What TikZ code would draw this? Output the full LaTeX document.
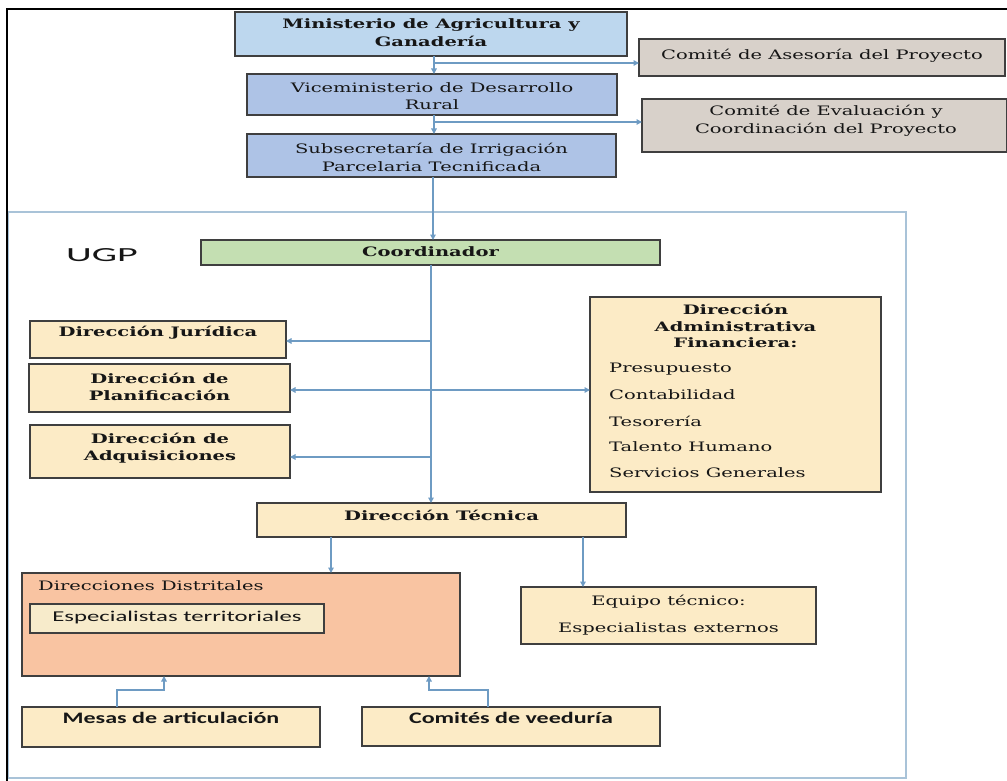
\documentclass[tikz,border=0pt]{standalone}
\usepackage{fontspec}
\usetikzlibrary{arrows.meta,calc}
\newfontfamily\serw[FakeStretch=1.5]{DejaVu Serif}
\newfontfamily\sanb[FakeStretch=1.5]{Carlito}
\newfontfamily\sanr[FakeStretch=1.65]{Carlito}
\newfontfamily\ugpf[FakeStretch=2.0]{Carlito}
\definecolor{bordc}{HTML}{3F3F3F}
\definecolor{connc}{HTML}{6E9BC3}
\definecolor{ugpc}{HTML}{A9C3D8}
\definecolor{minc}{HTML}{BDD7EE}
\definecolor{vicc}{HTML}{AEC3E6}
\definecolor{comc}{HTML}{D8D1CA}
\definecolor{grnc}{HTML}{C4DFB2}
\definecolor{yelc}{HTML}{FCEBC6}
\definecolor{orac}{HTML}{F9C4A2}
\definecolor{espc}{HTML}{F7EBCB}
\definecolor{txtc}{HTML}{161616}
\begin{document}
\begin{tikzpicture}[x=1pt,y=-1pt,
  box/.style={draw=bordc,line width=1.4pt,inner sep=0pt,outer sep=0pt},
  sertxt/.style={text=txtc,font=\serw\fontsize{13}{18}\selectfont,align=center,inner sep=0pt},
  serbold/.style={text=txtc,font=\serw\bfseries\fontsize{13}{18}\selectfont,align=center,inner sep=0pt},
  sansbold/.style={text=txtc,font=\sanb\bfseries\fontsize{16}{19}\selectfont,align=center,inner sep=0pt},
  sansreg/.style={text=txtc,font=\sanr\fontsize{15}{18}\selectfont,align=center,inner sep=0pt},
  conn/.style={draw=connc,line width=1.3pt},
  arr/.style={conn,-{Triangle[length=5.5pt,width=5.5pt]}},
  darr/.style={conn,{Triangle[length=5.5pt,width=5.5pt]}-{Triangle[length=5.5pt,width=5.5pt]}}]
\useasboundingbox (0,0) rectangle (1007,781);
\fill[white] (0,0) rectangle (1007,781);

% UGP frame
\draw[ugpc,line width=1.5pt] (8,212) rectangle (906,778);
% outer black frame
\draw[line width=2.2pt] (7,781) -- (7,9) -- (1007,9);

% top hierarchy
\node[box,fill=minc,minimum width=392pt,minimum height=44pt] (min) at (431,34) {};
\node[serbold] (minT) at (431,33) {Ministerio de Agricultura y\\Ganadería};
\node[box,fill=comc,minimum width=366pt,minimum height=37pt] (ca) at (822,57.5) {};
\node[sertxt] (caT) at (822,56) {Comité de Asesoría del Proyecto};
\node[box,fill=vicc,minimum width=370pt,minimum height=41pt] (vic) at (432,94.5) {};
\node[sertxt,font=\serw\fontsize{13}{17}\selectfont] (vicT) at (432,96) {Viceministerio de Desarrollo\\Rural};
\node[box,fill=comc,minimum width=365pt,minimum height=53pt] (ce) at (824.5,125.5) {};
\node[sertxt] (ceT) at (826,121) {Comité de Evaluación y\\Coordinación del Proyecto};
\node[box,fill=vicc,minimum width=369pt,minimum height=43pt] (sub) at (431.5,155.5) {};
\node[sertxt] (subT) at (431.5,157) {Subsecretaría de Irrigación\\Parcelaria Tecnificada};

% UGP
\node[text=txtc,font=\ugpf\fontsize{20}{22}\selectfont,inner sep=0pt] (ugp) at (102,255) {UGP};
\node[box,fill=grnc,minimum width=459pt,minimum height=25pt] (coo) at (430.5,252.5) {};
\node[serbold] (cooT) at (430.5,252) {Coordinador};

\node[box,fill=yelc,minimum width=256pt,minimum height=37pt] (jur) at (158,339.5) {};
\node[serbold] (jurT) at (158,333) {Dirección Jurídica};
\node[box,fill=yelc,minimum width=261pt,minimum height=48pt] (pla) at (159.5,388) {};
\node[serbold,font=\serw\bfseries\fontsize{13}{17}\selectfont] (plaT) at (159.5,387) {Dirección de\\Planificación};
\node[box,fill=yelc,minimum width=260pt,minimum height=53pt] (adq) at (160,451.5) {};
\node[serbold,font=\serw\bfseries\fontsize{13}{17}\selectfont] (adqT) at (160,448) {Dirección de\\Adquisiciones};

\node[box,fill=yelc,minimum width=291pt,minimum height=195pt] (adm) at (735.5,394.5) {};
\node[serbold,font=\serw\bfseries\fontsize{13}{16.5}\selectfont] (admT) at (735.5,326) {Dirección\\Administrativa\\Financiera:};
\node[sertxt,anchor=west] (adm1) at (609,369) {Presupuesto};
\node[sertxt,anchor=west] (adm2) at (609,395) {Contabilidad};
\node[sertxt,anchor=west] (adm3) at (609,421) {Tesorería};
\node[sertxt,anchor=west] (adm4) at (609,447) {Talento Humano};
\node[sertxt,anchor=west] (adm5) at (609,473) {Servicios Generales};

\node[box,fill=yelc,minimum width=369pt,minimum height=34pt] (tec) at (441.5,520) {};
\node[serbold] (tecT) at (441.5,515) {Dirección Técnica};

\node[box,fill=orac,minimum width=438pt,minimum height=103pt] (dis) at (241,624.5) {};
\node[sertxt,anchor=west] (disT) at (38,586) {Direcciones Distritales};
\node[box,fill=espc,minimum width=294pt,minimum height=29pt] (esp) at (177,618.5) {};
\node[sansreg] (espT) at (177,617) {Especialistas territoriales};

\node[box,fill=yelc,minimum width=295pt,minimum height=57pt] (equ) at (668.5,615.5) {};
\node[sertxt,font=\serw\fontsize{13}{27}\selectfont] (equT) at (668.5,615) {Equipo técnico:\\Especialistas externos};

\node[box,fill=yelc,minimum width=298pt,minimum height=40pt] (mes) at (171,727) {};
\node[sansbold] (mesT) at (171,718) {Mesas de articulación};
\node[box,fill=yelc,minimum width=298pt,minimum height=39pt] (cvd) at (511,726.5) {};
\node[sansbold] (cvdT) at (511,718) {Comités de veeduría};

% connectors top
\coordinate (c1) at (434,56);
\draw[arr] (c1) -- (c1 |- vic.north);
\draw[arr] (c1 |- 0,63) -- (ca.west |- 0,63);
\coordinate (c2) at (434,115);
\draw[arr] (c2) -- (c2 |- sub.north);
\draw[arr] (c2 |- 0,122) -- (ce.west |- 0,122);
\coordinate (c3) at (433,177);
\draw[arr] (c3) -- (c3 |- coo.north);

% coordinator spine
\coordinate (c4) at (431,265);
\draw[arr] (c4) -- (c4 |- tec.north);
\draw[arr] (c4 |- 0,341) -- (jur.east |- 0,341);
\draw[darr] (pla.east |- 0,390) -- (adm.west |- 0,390);
\draw[arr] (c4 |- 0,457) -- (adq.east |- 0,457);

% tecnica
\coordinate (c5) at (331,537);
\draw[arr] (c5) -- (c5 |- dis.north);
\coordinate (c6) at (583,537);
\draw[arr] (c6) -- (c6 |- equ.north);

% bottom
\coordinate (m1) at (117,707);
\coordinate (m2) at (164,676);
\draw[arr] (m1) -- (117,690) -- (164,690) -- (m2);
\coordinate (v1) at (488,707);
\coordinate (v2) at (429,676);
\draw[arr] (v1) -- (488,690) -- (429,690) -- (v2);
\end{tikzpicture}
\end{document}
